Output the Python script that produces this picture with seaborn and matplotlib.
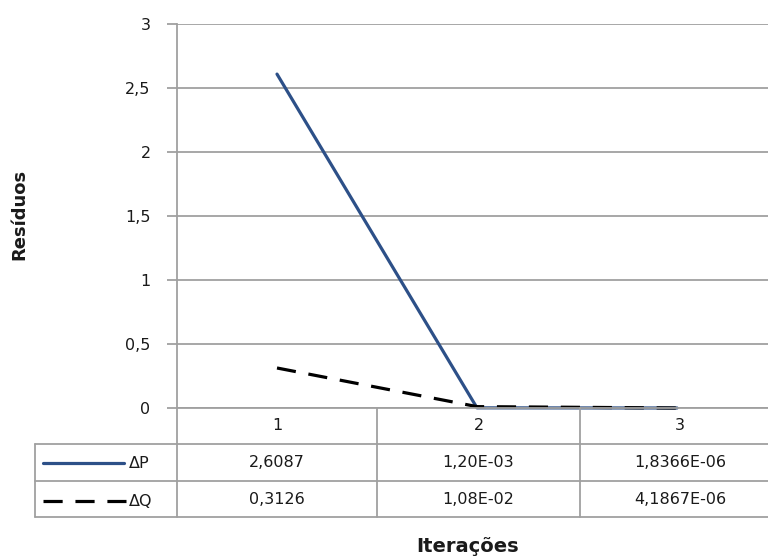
import matplotlib
matplotlib.use("Agg")
import matplotlib.pyplot as plt
from matplotlib.lines import Line2D
import seaborn as sns
import pandas as pd

# ---- data ----
iterations = ["1", "2", "3"]
dP = [2.6087, 1.20e-03, 1.8366e-06]
dQ = [0.3126, 1.08e-02, 4.1867e-06]
dP_labels = ["2,6087", "1,20E-03", "1,8366E-06"]
dQ_labels = ["0,3126", "1,08E-02", "4,1867E-06"]
series_names = ["ΔP", "ΔQ"]
y_ticks = [0, 0.5, 1, 1.5, 2, 2.5, 3]
y_tick_labels = ["0", "0,5", "1", "1,5", "2", "2,5", "3"]

sns.set_theme(style="white")
plt.rcParams['font.family'] = ['DejaVu Sans']

W, H = 768, 556
fig = plt.figure(figsize=(W / 100, H / 100), dpi=100)
fig.patch.set_facecolor("white")

def fx(px):
    return px / W

def fy(py):
    return 1 - py / H

GRID = "#a0a0a0"
BLUE = "#2d5088"
TXT = "#1a1a1a"
FS = 11.5

x0, x1 = 177, 777
y_top, y_bot = 24, 408
ax = fig.add_axes([fx(x0), fy(y_bot), (x1 - x0) / W, (y_bot - y_top) / H])

pos = [i + 0.5 for i in range(len(iterations))]
df = pd.DataFrame({"pos": pos * 2, "val": dP + dQ,
                   "serie": [series_names[0]] * 3 + [series_names[1]] * 3})

sns.lineplot(data=df[df.serie == "ΔP"], x="pos", y="val", color=BLUE,
             linewidth=2.3, ax=ax, legend=False, zorder=3)
sns.lineplot(data=df[df.serie == "ΔQ"], x="pos", y="val", color="black",
             linewidth=2.3, ax=ax, legend=False, zorder=4)
ax.lines[-1].set_dashes([6, 4])
for ln in ax.lines:
    ln.set_clip_on(False)

ax.set_xlim(0, 3)
ax.set_ylim(0, 3)
ax.set_yticks(y_ticks)
ax.set_yticklabels(y_tick_labels, fontsize=FS, color=TXT)
ax.set_xticks([])
ax.set_xlabel("")
ax.set_ylabel("")
ax.yaxis.grid(True, color=GRID, linewidth=1.3)
ax.set_axisbelow(True)
for s in ["top", "right", "bottom"]:
    ax.spines[s].set_visible(False)
ax.spines["left"].set_color(GRID)
ax.spines["left"].set_linewidth(1.3)
ax.tick_params(axis="y", which="major", length=7, width=1.3, color=GRID,
               direction="out", left=True, pad=12)

# ---- data table ----
def hline(y, xa, xb):
    fig.add_artist(Line2D([fx(xa), fx(xb)], [fy(y), fy(y)], color=GRID, lw=1.3))

def vline(x, ya, yb):
    fig.add_artist(Line2D([fx(x), fx(x)], [fy(ya), fy(yb)], color=GRID, lw=1.3))

tl = 35
r0, r1, r2, r3 = 408, 444, 481, 517
cols = [177, 377, 580, 780]
hline(r0, cols[0], W)
hline(r1, tl, W)
hline(r2, tl, W)
hline(r3, tl, W)
vline(tl, r1, r3)
for c in cols:
    vline(c, r0, r3)

for i, lab in enumerate(iterations):
    cx = (cols[i] + cols[i + 1]) / 2
    fig.text(fx(cx), fy((r0 + r1) / 2), lab, ha="center", va="center",
             fontsize=FS, color=TXT)
    fig.text(fx(cx), fy((r1 + r2) / 2), dP_labels[i], ha="center", va="center",
             fontsize=FS, color=TXT)
    fig.text(fx(cx), fy((r2 + r3) / 2), dQ_labels[i], ha="center", va="center",
             fontsize=FS, color=TXT)

# legend keys
fig.add_artist(Line2D([fx(43), fx(124)], [fy(463), fy(463)], color=BLUE, lw=2.3))
fig.add_artist(Line2D([fx(43), fx(126)], [fy(501), fy(501)], color="black",
                      lw=2.3, dashes=[6, 4]))
fig.text(fx(129), fy(463), series_names[0], ha="left", va="center",
         fontsize=FS, color=TXT)
fig.text(fx(129), fy(501), series_names[1], ha="left", va="center",
         fontsize=FS, color=TXT)

# axis titles
fig.text(fx(468), fy(546), "Iterações", ha="center", va="center",
         fontsize=14, fontweight="bold", color=TXT)
fig.text(fx(19), fy(214), "Resíduos", ha="center", va="center", rotation=90,
         fontsize=13, fontweight="bold", color=TXT)

fig.savefig("out.png", dpi=100, facecolor="white")
